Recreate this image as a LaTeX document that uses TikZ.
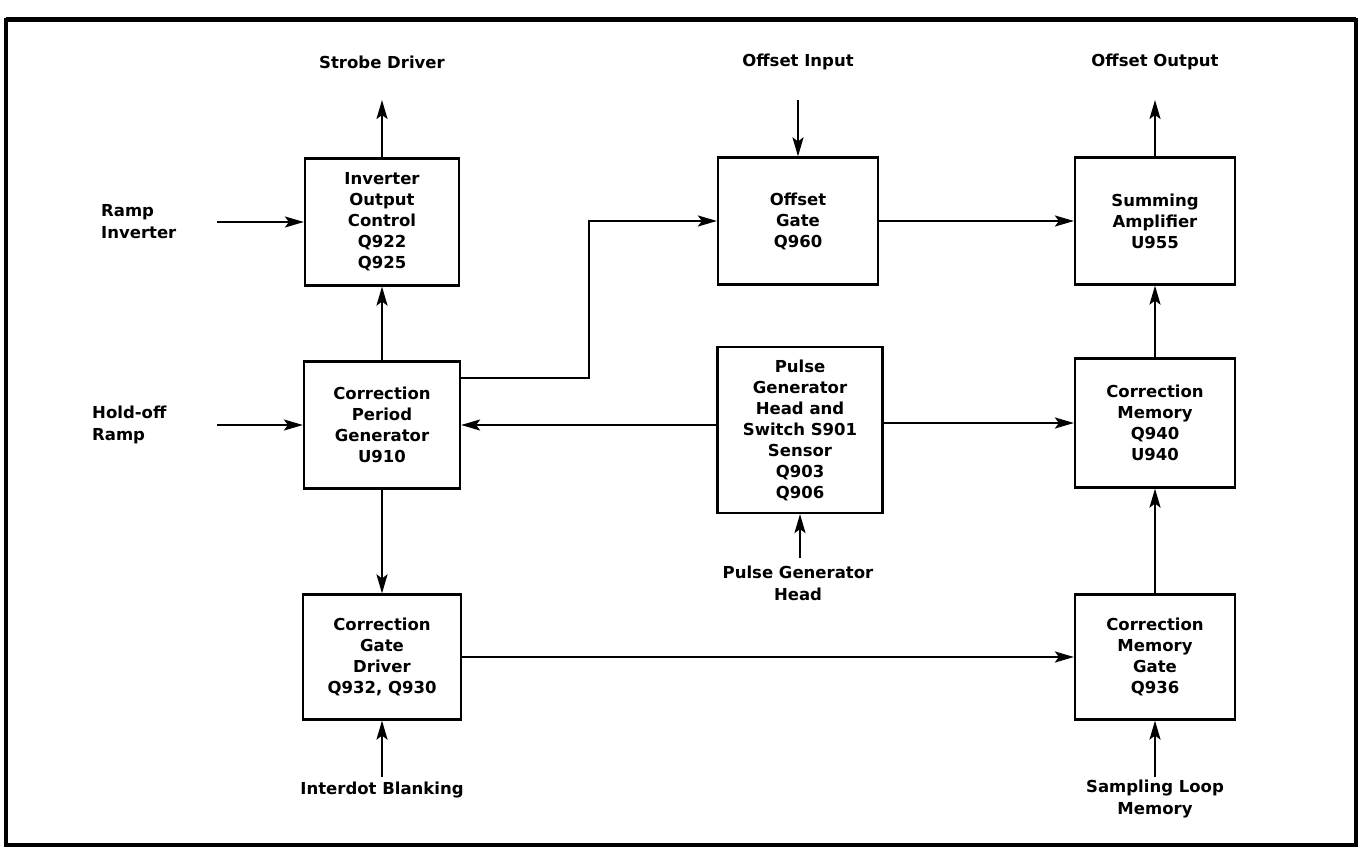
\documentclass[tikz,border=0pt]{standalone}
\usepackage{fontspec}
\setmainfont{DejaVu Sans}
\usepackage{tikz}
\usetikzlibrary{arrows.meta,positioning,calc}

\begin{document}
\begin{tikzpicture}[
    x=1pt, y=-1pt,
    block/.style={
      draw, line width=2.2pt, inner sep=0pt,
      minimum width=#1, minimum height=127pt,
      align=center, font=\bfseries\fontsize{16.5}{21}\selectfont
    },
    block/.default=160pt,
    sig/.style={inner sep=0pt, font=\bfseries\fontsize{16.5}{22}\selectfont},
    wire/.style={line width=2.2pt},
    >={Stealth[length=19pt,width=11pt,inset=4pt]}
  ]
  \useasboundingbox (0,0) rectangle (1365,850);

  % Frame
  \draw[line width=3.5pt] (6,20) rectangle (1356,845);
  \draw[line width=5pt] (6,20) -- (1356,20);

  % Blocks (left column)
  \node[block=154pt] (ioc) at (382,222) {Inverter\\Output\\Control\\Q922\\Q925};
  \node[block=156pt] (cpg) at (382,425) {Correction\\Period\\Generator\\U910};
  \node[block=158pt, minimum height=125pt] (cgd) at (382,657) {Correction\\Gate\\Driver\\Q932, Q930};

  % Blocks (middle column)
  \node[block] (og) at (798,221) {Offset\\Gate\\Q960};
  \node[block=165pt, minimum height=166pt] (pg) at (800,430)
    {Pulse\\Generator\\Head and\\Switch S901\\Sensor\\Q903\\Q906};

  % Blocks (right column)
  \node[block] (sa)  at (1155,221) {Summing\\Amplifier\\U955};
  \node[block, minimum height=129pt] (cm) at (1155,423) {Correction\\Memory\\Q940\\U940};
  \node[block, minimum height=125pt] (cmg) at (1155,657) {Correction\\Memory\\Gate\\Q936};

  % Signal labels
  \node[sig] (strobe) at (382,62)  {Strobe Driver};
  \node[sig] (offin)  at (798,62)  {Offset Input};
  \node[sig] (offout) at (1155,62) {Offset Output};
  \node[sig, anchor=west, align=left] (ramp) at (101,222) {Ramp\\Inverter};
  \node[sig, anchor=west, align=left] (hold) at (92,425)  {Hold-off\\Ramp};
  \node[sig, align=center] (pghead) at (798,583) {Pulse Generator\\Head};
  \node[sig] (blank) at (382,790) {Interdot Blanking};
  \node[sig, align=center] (samp) at (1155,799) {Sampling Loop\\Memory};

  % Free ends
  \coordinate (strobeEnd) at (382,100);
  \coordinate (offinStart) at (798,100);
  \coordinate (offoutEnd) at (1155,100);
  \coordinate (rampStart) at (217,222);
  \coordinate (holdStart) at (217,425);
  \coordinate (pgStart) at (800,558);
  \coordinate (blankStart) at (382,777);
  \coordinate (sampStart) at (1155,777);
  \coordinate (bend) at (589,378);

  % Arrows
  \foreach \i/\j in {cpg/ioc, cpg/cgd, cmg/cm, cm/sa, og/sa, cgd/cmg} {
    \draw[wire, ->] (\i) -- (\j);
  }
  \draw[wire, ->] (ioc) -- (strobeEnd);
  \draw[wire, ->] (offinStart) -- (og);
  \draw[wire, ->] (sa) -- (offoutEnd);
  \draw[wire, ->] (rampStart) -- (ioc);
  \draw[wire, ->] (holdStart) -- (cpg);
  \draw[wire, ->] (pgStart) -- (pg.south);
  \draw[wire, ->] (blankStart) -- (cgd);
  \draw[wire, ->] (sampStart) -- (cmg);
  \draw[wire, ->] (cpg.east |- bend) -- (bend) |- (og.west);
  \draw[wire, ->] (pg.west |- cpg.east) -- (cpg.east);
  \draw[wire, ->] (pg.east |- cm.west) -- (cm.west);
\end{tikzpicture}
\end{document}
